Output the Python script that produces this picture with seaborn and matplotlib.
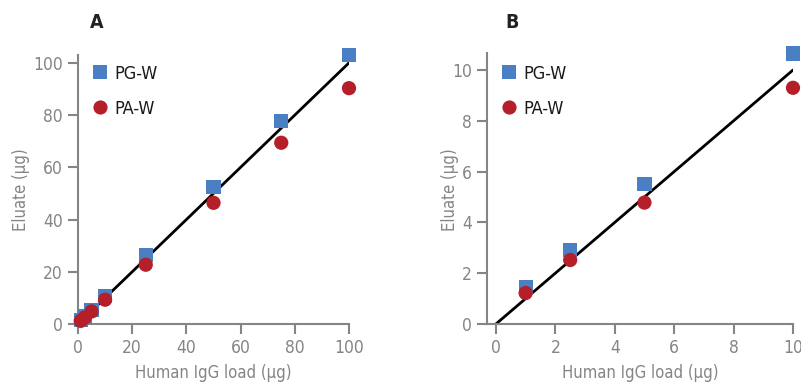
import matplotlib
matplotlib.use("Agg")
import matplotlib.pyplot as plt
import seaborn as sns
import pandas as pd

# ---- data ----
load_A = [1, 2.5, 5, 10, 25, 50, 75, 100]
pgw_A = [1.4, 2.9, 5.5, 10.6, 26.5, 52.5, 77.6, 103.0]
paw_A = [1.2, 2.5, 4.8, 9.3, 22.7, 46.4, 69.4, 90.3]

load_B = [1, 2.5, 5, 10]
pgw_B = [1.45, 2.9, 5.5, 10.65]
paw_B = [1.22, 2.52, 4.78, 9.3]

series = ["PG-W", "PA-W"]
colors = {"PG-W": "#4a80c3", "PA-W": "#b41f29"}
markers = {"PG-W": "s", "PA-W": "o"}

xticks_A = [0, 20, 40, 60, 80, 100]
yticks_A = [0, 20, 40, 60, 80, 100]
xticks_B = [0, 2, 4, 6, 8, 10]
yticks_B = [0, 2, 4, 6, 8, 10]

def make_df(load, pg, pa):
    return pd.DataFrame({
        "load": load + load,
        "eluate": pg + pa,
        "series": ["PG-W"] * len(load) + ["PA-W"] * len(load),
    })

sns.set_style("white")
plt.rcParams["font.family"] = ["DejaVu Sans"]
plt.rcParams["font.stretch"] = "condensed"

W, H = 801, 383
fig = plt.figure(figsize=(W / 100, H / 100), dpi=100)
grey = "#858585"

def px_axes(x0, x1, ytop, ybot):
    return fig.add_axes([x0 / W, 1 - ybot / H, (x1 - x0) / W, (ybot - ytop) / H])

axA = px_axes(78, 349, 55, 324)
axB = px_axes(487, 793, 53, 324)

panels = [
    (axA, make_df(load_A, pgw_A, paw_A), (0, 100), (0, 103), xticks_A, yticks_A, "A", [0, 100], 97, 30, 22),
    (axB, make_df(load_B, pgw_B, paw_B), (-0.3, 10), (0, 10.67), xticks_B, yticks_B, "B", [0, 10], 512, 459, 22),
]

for ax, df, xl, yl, xt, yt, letter, fitx, lx, ylab_x, ly in panels:
    ax.plot(fitx, fitx, color="black", lw=2, zorder=2)
    sns.scatterplot(data=df, x="load", y="eluate", hue="series", style="series",
                    hue_order=series, style_order=series, palette=colors,
                    markers=markers, s=105, edgecolor="none", ax=ax,
                    zorder=3, clip_on=False, legend=False)
    ax.set_xlim(*xl)
    ax.set_ylim(*yl)
    ax.set_xticks(xt)
    ax.set_yticks(yt)
    for side in ["top", "right"]:
        ax.spines[side].set_visible(False)
    for side in ["left", "bottom"]:
        ax.spines[side].set_color(grey)
        ax.spines[side].set_linewidth(1.5)
    ax.tick_params(axis="both", colors=grey, labelcolor=grey, labelsize=12.5,
                   length=7, width=1.5, direction="out", left=True, bottom=True, pad=4)
    ax.set_xlabel("Human IgG load (μg)", color=grey, fontsize=12, labelpad=5)
    ax.set_ylabel("Eluate (μg)", color=grey, fontsize=12)
    ax.yaxis.set_label_coords(ylab_x / W, 1 - 190 / H, transform=fig.transFigure)

    handles = [
        plt.Line2D([], [], ls="none", marker=markers[s], color=colors[s],
                   markersize=10.2, markeredgewidth=0)
        for s in series
    ]
    ax0 = ax.get_position().x0 * W
    ax.legend(handles, series, loc="upper left", frameon=False, fontsize=13,
              bbox_to_anchor=((ax0 + 0) / W, 1 - 52 / H),
              bbox_transform=fig.transFigure,
              handlelength=1.0, handletextpad=0.3, labelspacing=0.95,
              borderpad=0.2, labelcolor="#1a1a1a")
    fig.text(lx / W, 1 - ly / H, letter, ha="center", va="center",
             fontsize=14, fontweight="bold", color="#222222")

fig.savefig("out.png", dpi=100)
